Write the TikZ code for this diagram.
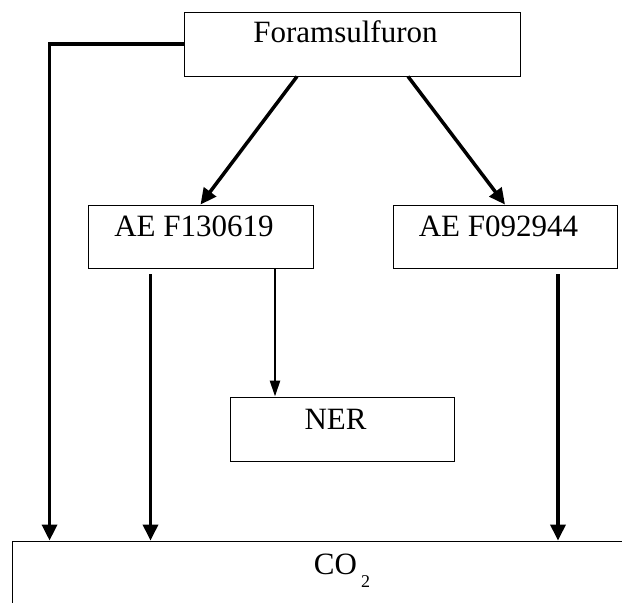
\documentclass[tikz,border=0pt]{standalone}
\usepackage{fontspec}
\setmainfont{Liberation Serif}
\usetikzlibrary{arrows.meta}

\begin{document}
\begin{tikzpicture}[x=1pt,y=-1pt,
  box/.style={draw,line width=0.9pt,inner sep=0pt,font=\fontsize{31}{36}\selectfont,
    execute at end node=\hspace{13pt}},
  thickarrow/.style={line width=3.5pt,-{Triangle[length=16pt,width=15pt]}},
  thinarrow/.style={line width=2.5pt,-{Triangle[length=16pt,width=10pt]}}]

\useasboundingbox (0,0) rectangle (622,603);
\clip (0,0) rectangle (622,603);

% compounds
\node[box,minimum width=336pt,text height=30pt,text depth=34pt] (fora) at (352,44) {Foramsulfuron};
\node[box,minimum width=225pt,text height=31pt,text depth=32pt] (ae1) at (200.5,236.5) {AE F130619};
\node[box,minimum width=224pt,text height=31pt,text depth=32pt] (ae2) at (505,236.5) {AE F092944};
\node[box,minimum width=224pt,text height=32pt,text depth=32pt] (ner) at (342,429) {NER};
\node[box,minimum width=660pt,text height=33pt,text depth=87pt] (co2) at (342,601)
  {\hspace{13pt}CO\hspace{4pt}\raisebox{-13pt}{\fontsize{18}{18}\selectfont 2}};

% start points below the boxes
\coordinate (ae1out) at ([xshift=-50pt,yshift=-6pt]ae1.south);
\coordinate (ae1ner) at ([xshift=74.5pt]ae1.south);
\coordinate (ae2out) at ([xshift=53pt,yshift=-6pt]ae2.south);

% pathways
\draw[thickarrow] ([xshift=-55pt]fora.south) -- (ae1.north);
\draw[thickarrow] ([xshift=56pt]fora.south) -- (ae2.north);
\draw[thickarrow] (fora.west) -| ([xshift=38pt]co2.north west);
\draw[thickarrow] (ae1out) -- (ae1out |- co2.north);
\draw[thinarrow] (ae1ner) -- (ae1ner |- ner.north);
\draw[thickarrow] (ae2out) -- (ae2out |- co2.north);

\end{tikzpicture}
\end{document}
